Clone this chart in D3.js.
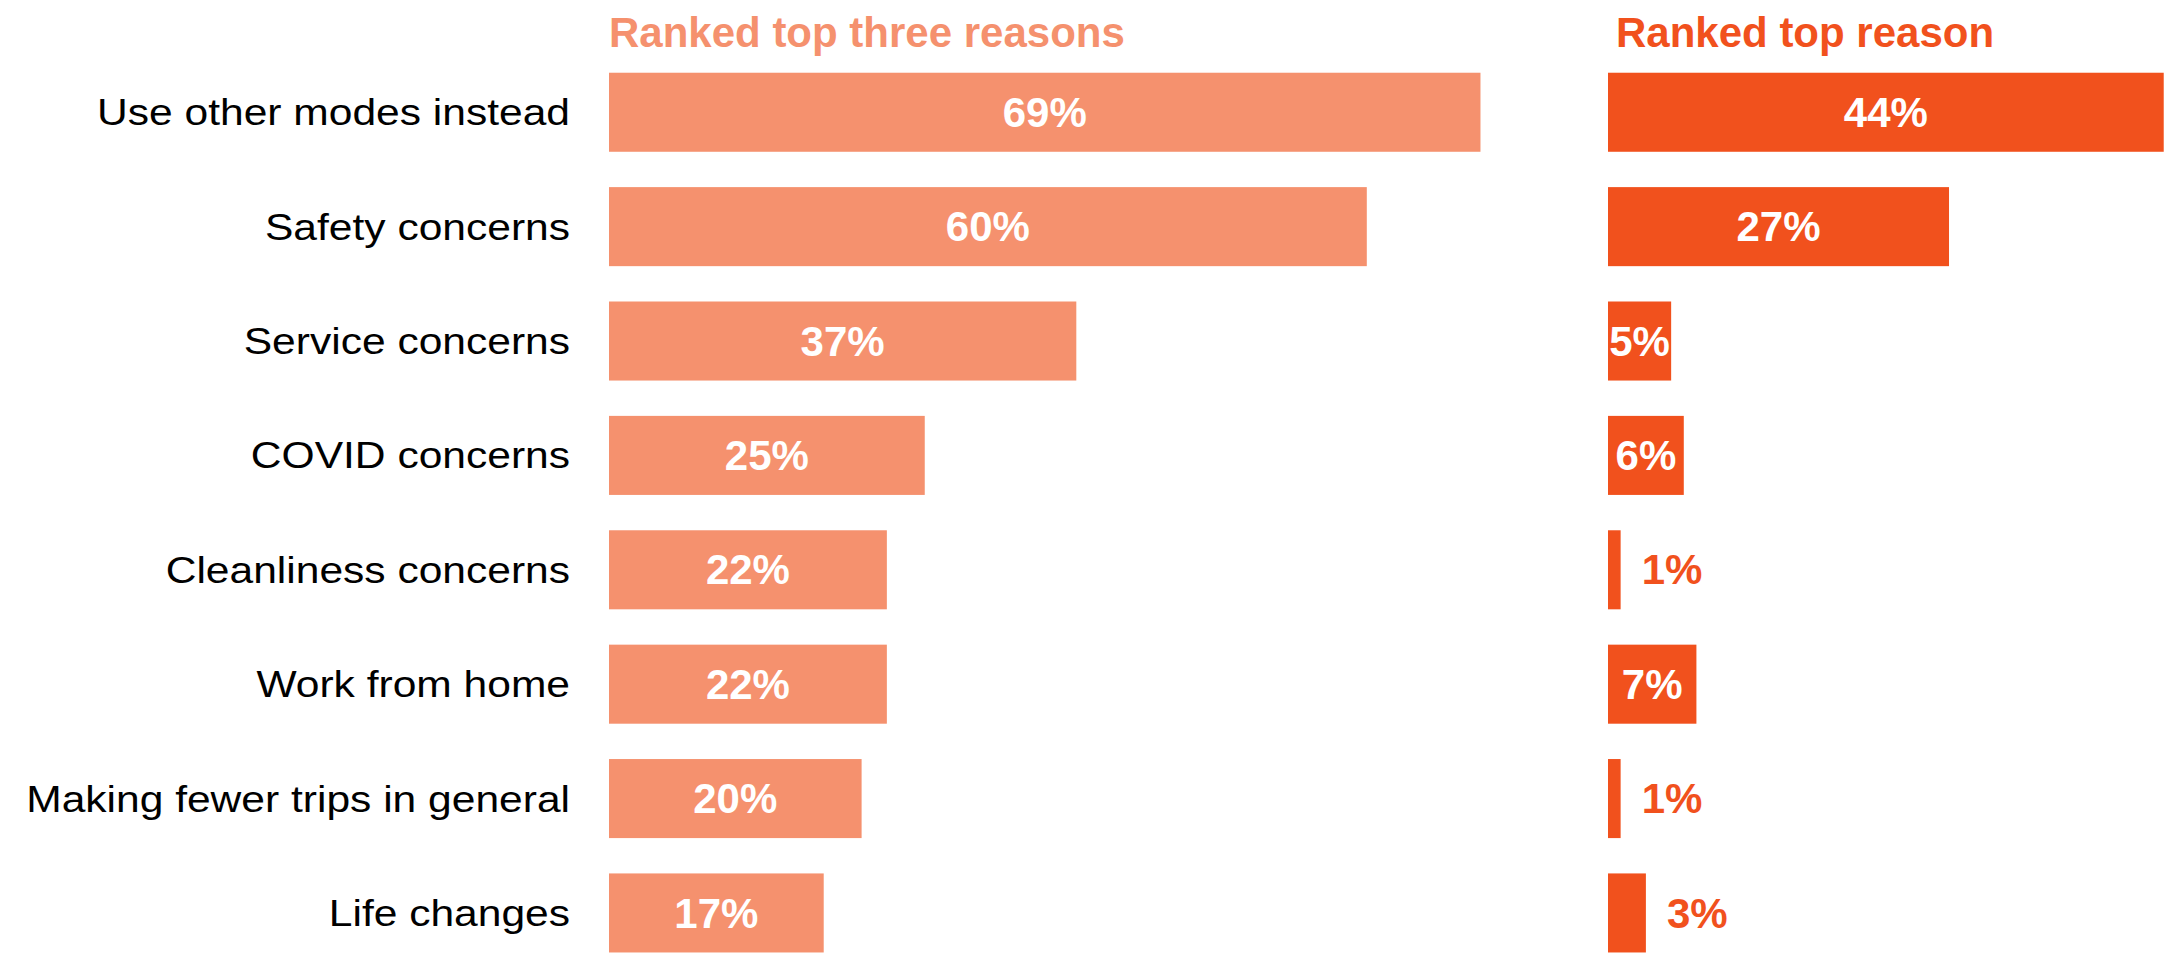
<!DOCTYPE html>
<html>
<head>
<meta charset="utf-8">
<script src="https://cdn.jsdelivr.net/npm/d3@7"></script>
<style>
  html, body { margin: 0; padding: 0; background: #ffffff; }
  svg { display: block; font-family: "Liberation Sans", Arial, Helvetica, sans-serif; }
</style>
</head>
<body>
<svg id="chart" width="2164" height="958"></svg>
<script>
const categories = [
  "Use other modes instead",
  "Safety concerns",
  "Service concerns",
  "COVID concerns",
  "Cleanliness concerns",
  "Work from home",
  "Making fewer trips in general",
  "Life changes"
];
const topThree = [69, 60, 37, 25, 22, 22, 20, 17];
const topOne = [44, 27, 5, 6, 1, 7, 1, 3];
const panelTitles = ["Ranked top three reasons", "Ranked top reason"];
const panelColors = ["#F5916E", "#F1511D"];

const W = 2164, H = 958;
const svg = d3.select("#chart");

const y = d3.scaleBand()
  .domain(categories)
  .range([55, 970.2])
  .paddingInner(0.309)
  .paddingOuter(0.155);

const x = d3.scaleLinear().domain([0, 100]).range([0, 1263]);

// Category labels (slightly wide lettering as in the reference)
svg.append("g")
  .selectAll("text")
  .data(categories)
  .join("text")
  .attr("transform", d => `translate(570,${y(d) + y.bandwidth() / 2}) scale(1.15,1)`)
  .attr("dy", "0.35em")
  .attr("text-anchor", "end")
  .attr("font-size", 37)
  .attr("fill", "#000")
  .text(d => d);

const panels = [
  { values: topThree, x0: 609, titleX: 609, color: panelColors[0], title: panelTitles[0] },
  { values: topOne, x0: 1608, titleX: 1616, color: panelColors[1], title: panelTitles[1] }
];

panels.forEach(p => {
  const g = svg.append("g").attr("transform", `translate(${p.x0},0)`);
  const rows = categories.map((c, i) => ({ c, v: p.values[i] }));

  g.selectAll("rect")
    .data(rows)
    .join("rect")
    .attr("x", 0)
    .attr("y", d => y(d.c))
    .attr("width", d => x(d.v))
    .attr("height", y.bandwidth())
    .attr("fill", p.color);

  g.selectAll("text.val")
    .data(rows)
    .join("text")
    .attr("class", "val")
    .attr("x", d => d.v >= 5 ? x(d.v) / 2 : x(d.v) + 21)
    .attr("y", d => y(d.c) + y.bandwidth() / 2)
    .attr("dy", "0.35em")
    .attr("text-anchor", d => d.v >= 5 ? "middle" : "start")
    .attr("font-size", 42)
    .attr("font-weight", "bold")
    .attr("fill", d => d.v >= 5 ? "#ffffff" : p.color)
    .text(d => d.v + "%");

  svg.append("text")
    .attr("x", p.titleX)
    .attr("y", 47)
    .attr("font-size", 42)
    .attr("font-weight", "bold")
    .attr("fill", p.color)
    .text(p.title);
});
</script>
</body>
</html>
